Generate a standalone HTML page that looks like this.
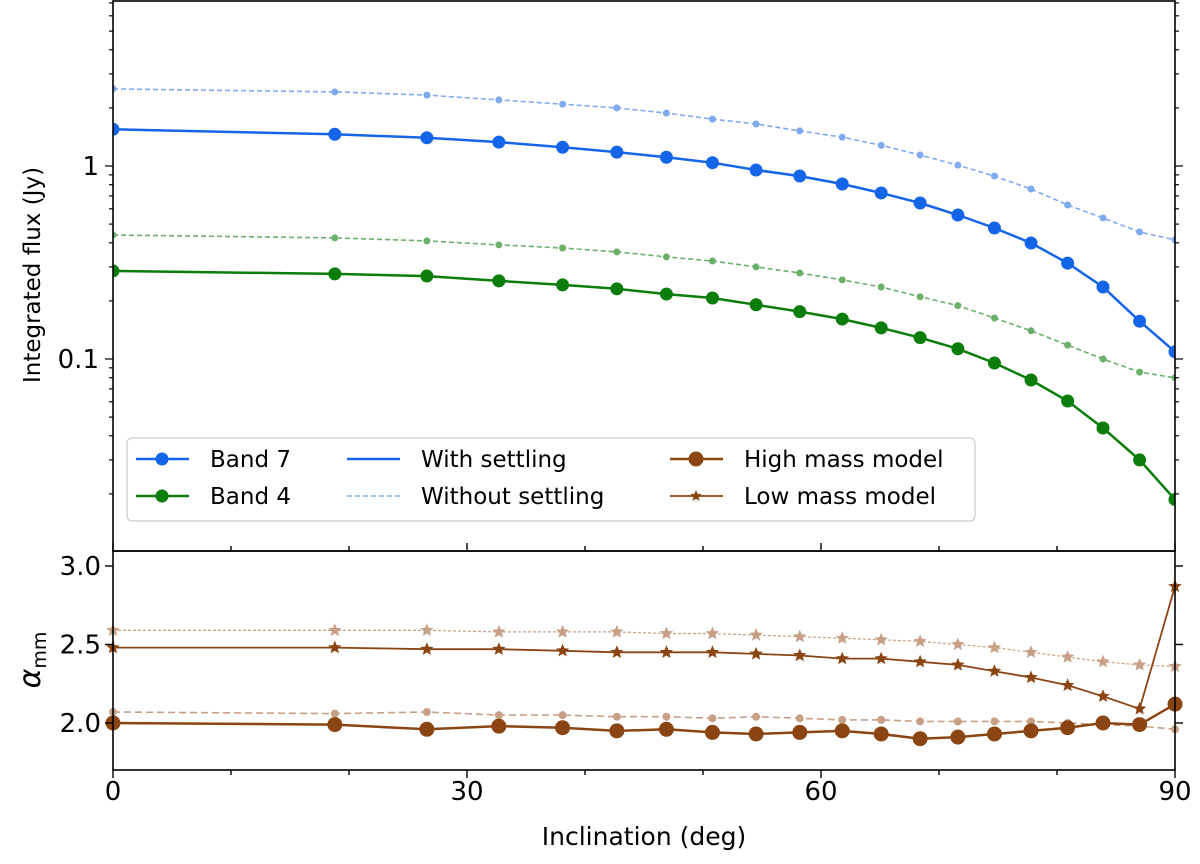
<!DOCTYPE html>
<html><head><meta charset="utf-8"><style>
body{margin:0;background:#fff;}
svg{display:block;font-family:"DejaVu Sans","Liberation Sans",sans-serif;}
</style></head><body>
<svg id="chart" width="1200" height="864" viewBox="0 0 1200 864" xmlns="http://www.w3.org/2000/svg"></svg>
<script>
const inclinations=[0,18.8,26.6,32.7,38.1,42.7,46.9,50.8,54.5,58.2,61.8,65.1,68.4,71.6,74.7,77.8,80.9,83.9,87.0,90];
const band7Settled=[1.55,1.46,1.40,1.33,1.25,1.18,1.11,1.04,0.953,0.887,0.807,0.725,0.643,0.557,0.477,0.399,0.314,0.236,0.157,0.109];
const band7Unsettled=[2.51,2.42,2.33,2.20,2.09,2.00,1.88,1.75,1.65,1.52,1.41,1.28,1.14,1.01,0.887,0.760,0.628,0.538,0.455,0.414];
const band4Settled=[0.286,0.276,0.269,0.254,0.242,0.231,0.217,0.207,0.191,0.176,0.161,0.145,0.129,0.113,0.0953,0.0778,0.0606,0.0439,0.0300,0.0187];
const band4Unsettled=[0.439,0.424,0.409,0.390,0.376,0.359,0.338,0.322,0.300,0.279,0.257,0.236,0.210,0.189,0.163,0.140,0.118,0.100,0.0855,0.0799];
const lowSettled=[2.48,2.48,2.47,2.47,2.46,2.45,2.45,2.45,2.44,2.43,2.41,2.41,2.39,2.37,2.33,2.29,2.24,2.17,2.09,2.87];
const lowUnsettled=[2.59,2.59,2.59,2.58,2.58,2.58,2.57,2.57,2.56,2.55,2.54,2.53,2.52,2.50,2.48,2.45,2.42,2.39,2.37,2.36];
const highSettled=[2.00,1.99,1.96,1.98,1.97,1.95,1.96,1.94,1.93,1.94,1.95,1.93,1.90,1.91,1.93,1.95,1.97,2.00,1.99,2.12];
const highUnsettled=[2.07,2.06,2.07,2.05,2.05,2.04,2.04,2.03,2.04,2.03,2.02,2.02,2.01,2.01,2.01,2.01,2.00,1.99,1.98,1.96];
const xTicks=[0,30,60,90];
const fluxTicks=[1,0.1];
const fluxTickLabels=["1","0.1"];
const alphaTicks=[3.0,2.5,2.0];
const alphaTickLabels=["3.0","2.5","2.0"];

const NS="http://www.w3.org/2000/svg";
const svg=document.getElementById('chart');
const L=113,R=1175,T1=1,B1=551,B2=770;
const x=v=>L+(v-0)/(90-0)*(R-L);
const yTop=v=>166-Math.log10(v)*193;
const yBot=v=>723-(v-2.0)/0.5*78.5;
function el(tag,attrs,parent){const e=document.createElementNS(NS,tag);for(const k in attrs)e.setAttribute(k,attrs[k]);(parent||svg).appendChild(e);return e;}
const BLUE="#1565e8",GREEN="#0a7d0a",BROWN="#8b4513",LBLUE="#7faaf0",LGREEN="#6ab06a",LBROWN="#c8a088";

function star(cx,cy,r){let p=[];for(let i=0;i<10;i++){const a=-Math.PI/2+i*Math.PI/5;const rr=i%2?r*0.45:r;p.push((cx+rr*Math.cos(a)).toFixed(1)+','+(cy+rr*Math.sin(a)).toFixed(1));}return p.join(' ');}

function series(vals,yf,color,width,dash,marker,msize,name,opacity){
  const g=el('g',{opacity:opacity||1});
  
  
  const pts=vals.map((v,i)=>x(inclinations[i]).toFixed(1)+','+yf(v).toFixed(1)).join(' ');
  const pl=el('polyline',{points:pts,fill:'none',stroke:color,'stroke-width':width,'stroke-dasharray':dash||'none'},g);
  
  
  vals.forEach((v,i)=>{
    let m;
    if(marker==='circle') m=el('circle',{cx:x(inclinations[i]),cy:yf(v),r:msize,fill:color},g);
    else m=el('polygon',{points:star(x(inclinations[i]),yf(v),msize),fill:color},g);
    
    
  });
}
const defs=el('defs',{});
const c1=el('clipPath',{id:'c1'},defs);el('rect',{x:L,y:T1,width:R-L,height:B1-T1},c1);
const c2=el('clipPath',{id:'c2'},defs);el('rect',{x:L-8,y:B1,width:R-L+16,height:B2-B1},c2);

const gTop=el('g',{'clip-path':'url(#c1)'});
const gBot=el('g',{'clip-path':'url(#c2)'});
function addTo(group,fn){const before=svg.childNodes.length;fn();while(svg.childNodes.length>before){group.appendChild(svg.childNodes[before]);}}
addTo(gTop,()=>{
series(band7Unsettled,yTop,LBLUE,1.6,'5,3','circle',3.5,'band7-without-settling');
series(band4Unsettled,yTop,LGREEN,1.6,'5,3','circle',3.5,'band4-without-settling');
series(band7Settled,yTop,BLUE,2.5,null,'circle',6.5,'band7-with-settling');
series(band4Settled,yTop,GREEN,2.5,null,'circle',6.5,'band4-with-settling');
});
addTo(gBot,()=>{
series(lowUnsettled,yBot,LBROWN,1.2,'3,2','star',7,'low-mass-without-settling');
series(highUnsettled,yBot,LBROWN,1.6,'7,4','circle',4,'high-mass-without-settling');
series(lowSettled,yBot,BROWN,1.8,null,'star',7,'low-mass-with-settling');
series(highSettled,yBot,BROWN,2.5,null,'circle',7.5,'high-mass-with-settling');
});

const f1=el('rect',{x:L,y:T1,width:R-L,height:B1-T1,fill:'none',stroke:'#000','stroke-width':1.6});

const f2=el('rect',{x:L,y:B1,width:R-L,height:B2-B1,fill:'none',stroke:'#000','stroke-width':1.6});


for(let d=0;d<=90;d+=10){
  const big=d%30===0;const len=big?8:5;
  el('line',{x1:x(d),x2:x(d),y1:B2,y2:B2+len,stroke:'#000','stroke-width':1.4});
  el('line',{x1:x(d),x2:x(d),y1:B1,y2:B1-len,stroke:'#000','stroke-width':1.4});
}
xTicks.forEach(t=>{const tx=el('text',{x:x(t),y:800,'text-anchor':'middle','font-size':26});tx.textContent=t;
  });
const xl=el('text',{x:(L+R)/2,y:845,'text-anchor':'middle','font-size':25});xl.textContent='Inclination (deg)';


for(let dec=-2;dec<=0;dec++){for(let m=1;m<10;m++){const v=m*Math.pow(10,dec);const yy=yTop(v);if(yy<T1||yy>B1)continue;
  const len=m===1?8:4;
  el('line',{x1:L,x2:L-len,y1:yy,y2:yy,stroke:'#000','stroke-width':1.2});
  el('line',{x1:R,x2:R+len,y1:yy,y2:yy,stroke:'#000','stroke-width':1.2});}}
fluxTicks.forEach((t,i)=>{const tx=el('text',{x:L-14,y:yTop(t)+9,'text-anchor':'end','font-size':26});tx.textContent=fluxTickLabels[i];
  });
const yl=el('text',{x:40,y:275,'text-anchor':'middle','font-size':23,transform:'rotate(-90 40 275)'});yl.textContent='Integrated flux (Jy)';


alphaTicks.forEach((t,i)=>{const yy=yBot(t);
  el('line',{x1:L,x2:L-8,y1:yy,y2:yy,stroke:'#000','stroke-width':1.4});
  el('line',{x1:R,x2:R+8,y1:yy,y2:yy,stroke:'#000','stroke-width':1.4});
  const tx=el('text',{x:L-12,y:yy+9,'text-anchor':'end','font-size':26});tx.textContent=alphaTickLabels[i];
  });
const al=el('text',{x:40,y:660,'text-anchor':'middle','font-size':30,'font-style':'italic',transform:'rotate(-90 40 660)'});

al.innerHTML='α<tspan font-style="normal" font-size="19" dy="6">mm</tspan>';

const lg=el('g',{});

el('rect',{x:127,y:438,width:848,height:83,rx:5,fill:'#fff',stroke:'#ccc','stroke-width':1.3,opacity:0.95},lg);
function entry(x0,yy,color,w,dash,marker,r,label,name){
  const g=el('g',{},lg);
  
  el('line',{x1:x0,x2:x0+53,y1:yy,y2:yy,stroke:color,'stroke-width':w,'stroke-dasharray':dash||'none'},g);
  if(marker==='circle')el('circle',{cx:x0+26,cy:yy,r:r,fill:color},g);
  if(marker==='star')el('polygon',{points:star(x0+26,yy,r),fill:color},g);
  const t=el('text',{x:x0+74,y:yy+8,'font-size':23},g);t.textContent=label;
}
entry(136,459,BLUE,2.5,null,'circle',6.5,'Band 7','legend-band7');
entry(136,496,GREEN,2.5,null,'circle',6.5,'Band 4','legend-band4');
entry(347,459,BLUE,2.5,null,null,0,'With settling','legend-with-settling');
entry(347,496,LBLUE,1.6,'5,3',null,0,'Without settling','legend-without-settling');
entry(670,459,BROWN,2.5,null,'circle',7.5,'High mass model','legend-high-mass');
entry(670,496,BROWN,1.8,null,'star',6,'Low mass model','legend-low-mass');
</script>
</body></html>
